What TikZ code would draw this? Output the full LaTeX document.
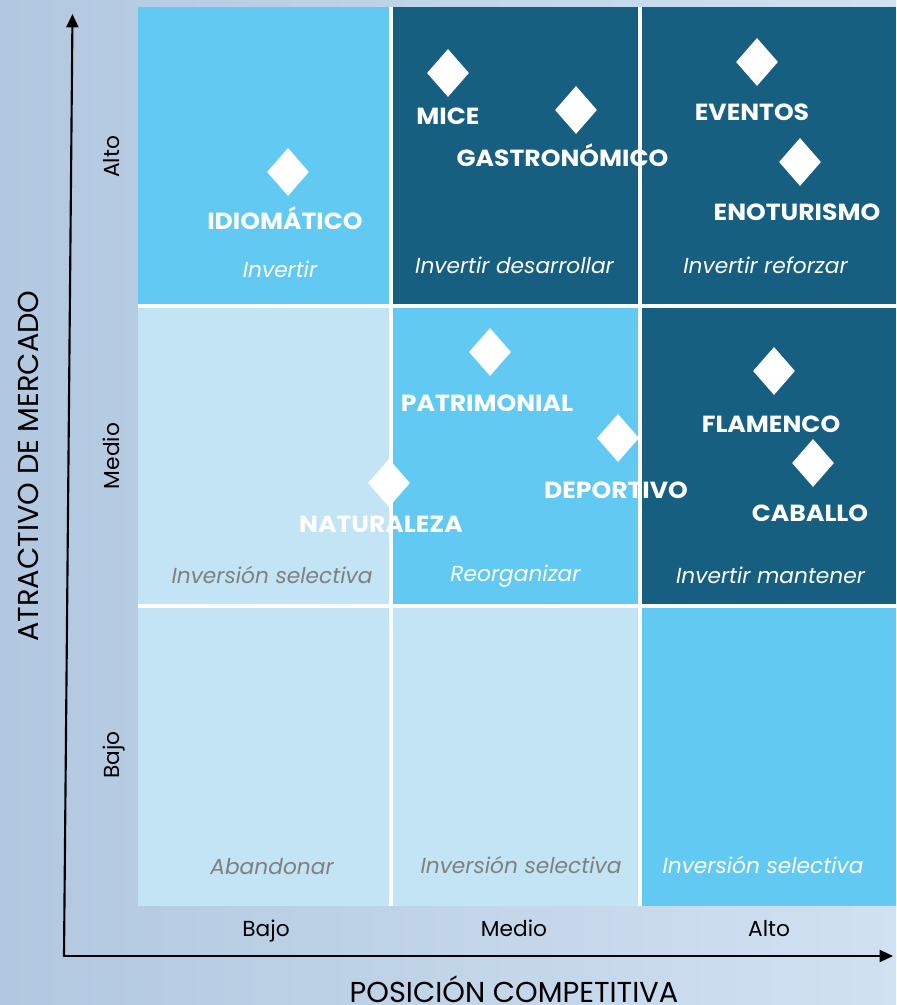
\documentclass[tikz,border=0pt]{standalone}
\usepackage{fontspec}
\setmainfont{Poppins}
\usetikzlibrary{arrows.meta,shapes.geometric}
\definecolor{bgL}{RGB}{178,200,224}
\definecolor{bgR}{RGB}{208,225,241}
\definecolor{cyanc}{RGB}{98,202,242}
\definecolor{darkc}{RGB}{23,95,129}
\definecolor{palec}{RGB}{194,228,244}
\definecolor{grayt}{RGB}{128,128,128}
\tikzset{
  dia/.style={shape=diamond,fill=white,draw=none,inner sep=0pt,minimum width=31.5pt,minimum height=36pt},
  prod/.style={text=white,font=\fontsize{17.5}{20}\selectfont\bfseries,inner sep=0pt,anchor=base,xscale=1.075},
  act/.style={font=\fontsize{16.3}{19}\selectfont\itshape,inner sep=0pt,anchor=base},
  tick/.style={font=\fontsize{16.3}{19}\selectfont,inner sep=0pt,text=black,anchor=base},
  axtitle/.style={font=\fontsize{21.6}{24}\selectfont,inner sep=0pt,text=black,anchor=base},
  axis/.style={line width=1.6pt,-{Triangle[length=10pt,width=9pt]}}
}
\begin{document}
\begin{tikzpicture}[x=0.75pt,y=-0.75pt]
\shade[left color=bgL,right color=bgR] (0,0) rectangle (896,1005);
\useasboundingbox (0,0) rectangle (896,1005);
% grid background (white gaps)
\fill[white] (138,7) rectangle (896,906);
% row 1
\fill[cyanc] (138,7) rectangle (389,304);
\fill[darkc] (393,7) rectangle (638,304);
\fill[darkc] (642,7) rectangle (896,304);
% row 2
\fill[palec] (138,308) rectangle (389,604);
\fill[cyanc] (393,308) rectangle (638,604);
\fill[darkc] (642,308) rectangle (896,604);
% row 3
\fill[palec] (138,608) rectangle (389,906);
\fill[palec] (393,608) rectangle (638,906);
\fill[cyanc] (642,608) rectangle (896,906);
% strategy labels
\node[act,text=white] (a1) at (280,277) {Invertir};
\node[act,text=white] (a2) at (514.5,274) {Invertir desarrollar};
\node[act,text=white] (a3) at (765.5,274) {Invertir reforzar};
\node[act,text=grayt] (a4) at (272,583) {Inversión selectiva};
\node[act,text=white] (a5) at (515.5,581.5) {Reorganizar};
\node[act,text=white] (a6) at (770.5,583) {Invertir mantener};
\node[act,text=grayt] (a7) at (272,874) {Abandonar};
\node[act,text=grayt] (a8) at (521,873) {Inversión selectiva};
\node[act,text=white] (a9) at (763,873) {Inversión selectiva};
% diamonds
\node[dia] (d1) at (288,172) {};
\node[dia] (d2) at (448,73) {};
\node[dia] (d3) at (576,110) {};
\node[dia] (d4) at (757,62) {};
\node[dia] (d5) at (800,162) {};
\node[dia] (d6) at (490,352) {};
\node[dia] (d7) at (618,438) {};
\node[dia] (d8) at (389,483) {};
\node[dia] (d9) at (774,371) {};
\node[dia] (d10) at (813,463) {};
% product labels
\node[prod] (p1) at (285,230) {IDIOMÁTICO};
\node[prod] (p2) at (448,125) {MICE};
\node[prod] (p3) at (562.5,166.5) {GASTRONÓMICO};
\node[prod] (p4) at (752,120.5) {EVENTOS};
\node[prod] (p5) at (797,220.5) {ENOTURISMO};
\node[prod] (p6) at (487,411) {PATRIMONIAL};
\node[prod] (p7) at (616,498) {DEPORTIVO};
\node[prod] (p8) at (381,532) {NATURALEZA};
\node[prod] (p9) at (771,432) {FLAMENCO};
\node[prod] (p10) at (810,521.5) {CABALLO};
% axes
\coordinate (o) at (64,956);
\coordinate (ytop) at (72.5,14);
\coordinate (xend) at (893,956);
\draw[axis] (o) -- (ytop);
\draw[axis] ([xshift=-1pt]o) -- (xend);
% tick labels
\node[tick] (xb) at (266,936) {Bajo};
\node[tick] (xm) at (514,936) {Medio};
\node[tick] (xa) at (769,936) {Alto};
\node[tick,rotate=90] (yb) at (119,755) {Bajo};
\node[tick,rotate=90] (ym) at (119,456) {Medio};
\node[tick,rotate=90] (ya) at (119,157) {Alto};
% axis titles
\node[axtitle] (xt) at (514,1002) {POSICIÓN COMPETITIVA};
\node[axtitle,rotate=90] (yt) at (38,466) {ATRACTIVO DE MERCADO};
\end{tikzpicture}
\end{document}
